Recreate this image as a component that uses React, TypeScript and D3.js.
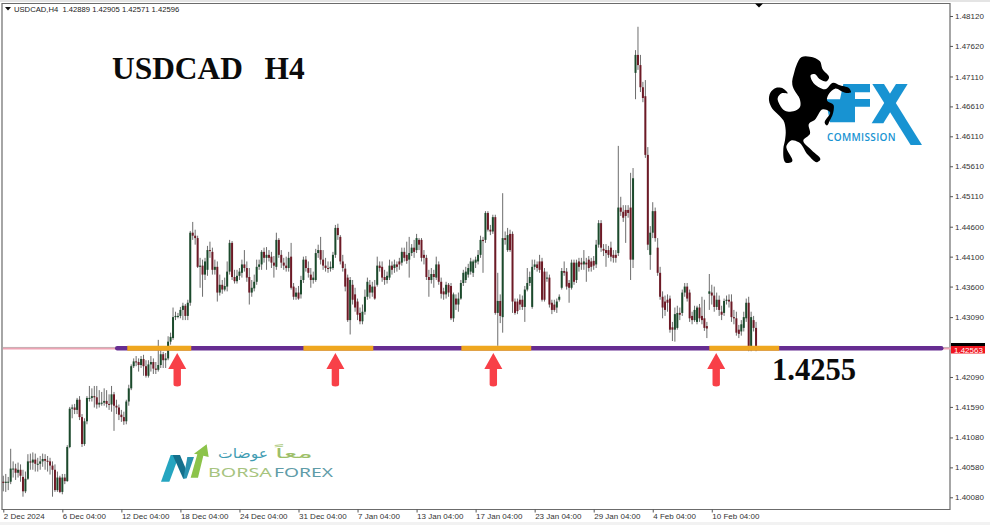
import { useEffect, useRef } from "react";
import * as d3 from "d3";

// USDCAD H4 bars
const OPENS = [1.4034,1.4032,1.4034,1.4034,1.4056,1.4056,1.4049,1.4054,1.4042,1.4018,1.4039,1.4068,1.4066,1.4071,1.4064,1.4064,1.4068,1.4072,1.4069,1.4068,1.4061,1.4054,1.4020,1.4041,1.4017,1.4041,1.4035,1.4092,1.4156,1.4158,1.4154,1.4171,1.4142,1.4097,1.4135,1.4174,1.4174,1.4177,1.4175,1.4163,1.4166,1.4166,1.4169,1.4164,1.4163,1.4180,1.4161,1.4158,1.4146,1.4142,1.4135,1.4168,1.4190,1.4227,1.4235,1.4234,1.4229,1.4239,1.4227,1.4211,1.4230,1.4234,1.4223,1.4221,1.4229,1.4247,1.4237,1.4240,1.4268,1.4274,1.4309,1.4311,1.4311,1.4321,1.4328,1.4311,1.4333,1.4450,1.4445,1.4441,1.4393,1.4395,1.4380,1.4388,1.4421,1.4418,1.4388,1.4393,1.4350,1.4363,1.4355,1.4360,1.4385,1.4433,1.4376,1.4369,1.4378,1.4383,1.4397,1.4391,1.4376,1.4350,1.4357,1.4368,1.4393,1.4397,1.4418,1.4408,1.4413,1.4410,1.4400,1.4393,1.4438,1.4413,1.4400,1.4395,1.4391,1.4410,1.4360,1.4343,1.4350,1.4347,1.4371,1.4405,1.4391,1.4380,1.4371,1.4371,1.4416,1.4421,1.4405,1.4395,1.4391,1.4390,1.4391,1.4413,1.4458,1.4443,1.4402,1.4390,1.4375,1.4304,1.4363,1.4347,1.4335,1.4316,1.4302,1.4318,1.4343,1.4363,1.4350,1.4360,1.4363,1.4395,1.4393,1.4376,1.4371,1.4375,1.4395,1.4391,1.4397,1.4402,1.4400,1.4418,1.4413,1.4405,1.4416,1.4425,1.4421,1.4438,1.4438,1.4413,1.4408,1.4376,1.4371,1.4381,1.4375,1.4397,1.4368,1.4352,1.4347,1.4363,1.4361,1.4307,1.4340,1.4330,1.4340,1.4366,1.4371,1.4380,1.4385,1.4383,1.4400,1.4402,1.4413,1.4438,1.4438,1.4483,1.4455,1.4452,1.4476,1.4316,1.4336,1.4309,1.4441,1.4421,1.4448,1.4448,1.4335,1.4335,1.4338,1.4338,1.4326,1.4355,1.4366,1.4326,1.4393,1.4397,1.4402,1.4402,1.4385,1.4375,1.4375,1.4333,1.4330,1.4325,1.4338,1.4358,1.4386,1.4385,1.4366,1.4358,1.4400,1.4371,1.4402,1.4400,1.4397,1.4400,1.4405,1.4402,1.4403,1.4397,1.4430,1.4466,1.4423,1.4421,1.4421,1.4425,1.4413,1.4413,1.4416,1.4492,1.4485,1.4488,1.4488,1.4492,1.4405,1.4717,1.4747,1.4730,1.4693,1.4678,1.4580,1.4413,1.4450,1.4486,1.4425,1.4383,1.4343,1.4335,1.4338,1.4340,1.4292,1.4288,1.4291,1.4316,1.4316,1.4350,1.4360,1.4350,1.4311,1.4304,1.4301,1.4325,1.4311,1.4307,1.4294,1.4348,1.4350,1.4345,1.4326,1.4338,1.4318,1.4316,1.4336,1.4338,1.4335,1.4309,1.4307,1.4288,1.4285,1.4291,1.4307,1.4333,1.4259,1.4304,1.4291];
const HIGHS = [1.4044,1.4047,1.4042,1.4089,1.4068,1.4064,1.4066,1.4063,1.4054,1.4051,1.4080,1.4081,1.4083,1.4081,1.4074,1.4077,1.4081,1.4080,1.4077,1.4074,1.4068,1.4063,1.4051,1.4044,1.4047,1.4047,1.4095,1.4159,1.4163,1.4164,1.4174,1.4177,1.4147,1.4140,1.4177,1.4194,1.4190,1.4194,1.4194,1.4187,1.4184,1.4190,1.4187,1.4180,1.4194,1.4184,1.4171,1.4163,1.4154,1.4151,1.4171,1.4196,1.4230,1.4240,1.4244,1.4240,1.4244,1.4246,1.4237,1.4237,1.4244,1.4240,1.4234,1.4271,1.4254,1.4251,1.4249,1.4277,1.4283,1.4325,1.4318,1.4316,1.4326,1.4333,1.4331,1.4338,1.4453,1.4468,1.4455,1.4445,1.4408,1.4405,1.4408,1.4428,1.4435,1.4425,1.4405,1.4402,1.4380,1.4371,1.4375,1.4402,1.4438,1.4436,1.4388,1.4388,1.4391,1.4405,1.4421,1.4402,1.4391,1.4371,1.4380,1.4405,1.4405,1.4421,1.4425,1.4426,1.4421,1.4418,1.4411,1.4450,1.4441,1.4421,1.4408,1.4410,1.4418,1.4433,1.4366,1.4358,1.4361,1.4378,1.4410,1.4411,1.4402,1.4391,1.4385,1.4423,1.4430,1.4443,1.4421,1.4408,1.4402,1.4402,1.4418,1.4463,1.4465,1.4446,1.4413,1.4398,1.4380,1.4376,1.4371,1.4358,1.4340,1.4325,1.4330,1.4355,1.4375,1.4371,1.4368,1.4371,1.4410,1.4402,1.4402,1.4388,1.4385,1.4405,1.4402,1.4405,1.4402,1.4408,1.4425,1.4425,1.4435,1.4443,1.4431,1.4438,1.4448,1.4441,1.4441,1.4421,1.4413,1.4388,1.4391,1.4388,1.4410,1.4402,1.4375,1.4358,1.4368,1.4366,1.4366,1.4350,1.4347,1.4350,1.4371,1.4388,1.4393,1.4398,1.4408,1.4405,1.4410,1.4421,1.4445,1.4443,1.4486,1.4486,1.4463,1.4480,1.4480,1.4383,1.4347,1.4516,1.4452,1.4458,1.4455,1.4452,1.4340,1.4340,1.4347,1.4345,1.4361,1.4391,1.4385,1.4405,1.4405,1.4402,1.4413,1.4408,1.4391,1.4385,1.4380,1.4338,1.4338,1.4340,1.4347,1.4391,1.4402,1.4391,1.4371,1.4405,1.4405,1.4405,1.4408,1.4408,1.4421,1.4408,1.4411,1.4408,1.4411,1.4438,1.4471,1.4471,1.4431,1.4431,1.4428,1.4435,1.4421,1.4421,1.4595,1.4510,1.4496,1.4496,1.4496,1.4550,1.4558,1.4755,1.4794,1.4747,1.4702,1.4705,1.4593,1.4461,1.4501,1.4492,1.4441,1.4393,1.4352,1.4345,1.4347,1.4345,1.4301,1.4325,1.4328,1.4325,1.4355,1.4366,1.4366,1.4355,1.4318,1.4328,1.4328,1.4331,1.4343,1.4338,1.4301,1.4381,1.4363,1.4360,1.4350,1.4345,1.4328,1.4340,1.4345,1.4347,1.4347,1.4321,1.4318,1.4296,1.4304,1.4318,1.4340,1.4343,1.4318,1.4311,1.4301];
const LOWS = [1.4018,1.4017,1.4020,1.4030,1.4041,1.4037,1.4041,1.4034,1.4009,1.4015,1.4037,1.4054,1.4054,1.4051,1.4051,1.4054,1.4059,1.4054,1.4051,1.4046,1.4009,1.4017,1.4017,1.4015,1.4013,1.4030,1.4034,1.4090,1.4140,1.4147,1.4147,1.4137,1.4092,1.4094,1.4130,1.4168,1.4168,1.4158,1.4156,1.4158,1.4161,1.4161,1.4158,1.4154,1.4151,1.4119,1.4147,1.4137,1.4134,1.4129,1.4130,1.4161,1.4187,1.4224,1.4227,1.4218,1.4224,1.4211,1.4208,1.4208,1.4218,1.4214,1.4214,1.4218,1.4224,1.4224,1.4224,1.4237,1.4263,1.4271,1.4304,1.4307,1.4307,1.4304,1.4304,1.4304,1.4328,1.4438,1.4430,1.4391,1.4358,1.4343,1.4371,1.4378,1.4408,1.4380,1.4380,1.4335,1.4345,1.4348,1.4352,1.4352,1.4380,1.4371,1.4365,1.4365,1.4371,1.4375,1.4385,1.4368,1.4330,1.4343,1.4352,1.4363,1.4388,1.4388,1.4400,1.4388,1.4402,1.4391,1.4375,1.4388,1.4408,1.4391,1.4388,1.4385,1.4385,1.4355,1.4338,1.4338,1.4338,1.4340,1.4366,1.4385,1.4375,1.4358,1.4365,1.4368,1.4408,1.4397,1.4388,1.4385,1.4383,1.4385,1.4388,1.4408,1.4438,1.4397,1.4385,1.4352,1.4301,1.4280,1.4330,1.4318,1.4304,1.4297,1.4297,1.4313,1.4338,1.4340,1.4343,1.4338,1.4360,1.4385,1.4368,1.4363,1.4365,1.4371,1.4380,1.4383,1.4385,1.4388,1.4395,1.4402,1.4398,1.4375,1.4411,1.4408,1.4416,1.4421,1.4402,1.4397,1.4371,1.4343,1.4365,1.4358,1.4371,1.4363,1.4340,1.4338,1.4340,1.4343,1.4304,1.4301,1.4321,1.4318,1.4338,1.4361,1.4366,1.4375,1.4380,1.4376,1.4391,1.4397,1.4408,1.4383,1.4433,1.4452,1.4446,1.4448,1.4313,1.4261,1.4299,1.4283,1.4430,1.4418,1.4418,1.4316,1.4313,1.4314,1.4321,1.4321,1.4301,1.4352,1.4361,1.4323,1.4388,1.4385,1.4383,1.4335,1.4335,1.4368,1.4325,1.4314,1.4318,1.4316,1.4335,1.4355,1.4378,1.4355,1.4333,1.4355,1.4363,1.4366,1.4385,1.4388,1.4388,1.4368,1.4385,1.4385,1.4388,1.4391,1.4425,1.4418,1.4411,1.4393,1.4408,1.4402,1.4400,1.4400,1.4411,1.4478,1.4468,1.4433,1.4475,1.4371,1.4391,1.4673,1.4722,1.4685,1.4668,1.4575,1.4421,1.4388,1.4441,1.4435,1.4378,1.4338,1.4307,1.4311,1.4318,1.4283,1.4269,1.4268,1.4288,1.4304,1.4311,1.4343,1.4335,1.4301,1.4297,1.4301,1.4297,1.4301,1.4297,1.4286,1.4274,1.4321,1.4330,1.4318,1.4321,1.4311,1.4304,1.4311,1.4330,1.4325,1.4301,1.4297,1.4278,1.4274,1.4278,1.4285,1.4301,1.4252,1.4252,1.4285,1.4252];
const CLOSES = [1.4032,1.4034,1.4034,1.4056,1.4056,1.4049,1.4054,1.4044,1.4018,1.4039,1.4068,1.4066,1.4071,1.4064,1.4064,1.4068,1.4072,1.4069,1.4068,1.4061,1.4054,1.4020,1.4041,1.4017,1.4041,1.4035,1.4092,1.4156,1.4158,1.4154,1.4171,1.4142,1.4097,1.4135,1.4174,1.4174,1.4177,1.4175,1.4163,1.4166,1.4166,1.4169,1.4164,1.4163,1.4180,1.4161,1.4158,1.4146,1.4142,1.4135,1.4168,1.4190,1.4227,1.4235,1.4234,1.4229,1.4239,1.4227,1.4211,1.4230,1.4234,1.4223,1.4221,1.4229,1.4247,1.4237,1.4240,1.4268,1.4276,1.4309,1.4311,1.4311,1.4321,1.4328,1.4311,1.4333,1.4450,1.4445,1.4441,1.4393,1.4395,1.4380,1.4402,1.4421,1.4420,1.4388,1.4393,1.4350,1.4363,1.4355,1.4361,1.4385,1.4433,1.4376,1.4369,1.4378,1.4385,1.4397,1.4391,1.4375,1.4350,1.4358,1.4368,1.4393,1.4397,1.4418,1.4408,1.4413,1.4408,1.4400,1.4395,1.4438,1.4413,1.4400,1.4395,1.4391,1.4408,1.4358,1.4343,1.4350,1.4340,1.4371,1.4405,1.4391,1.4383,1.4371,1.4375,1.4416,1.4421,1.4405,1.4395,1.4391,1.4390,1.4393,1.4413,1.4458,1.4446,1.4402,1.4391,1.4360,1.4304,1.4371,1.4338,1.4325,1.4313,1.4302,1.4318,1.4343,1.4368,1.4350,1.4360,1.4340,1.4395,1.4391,1.4375,1.4371,1.4378,1.4395,1.4388,1.4397,1.4393,1.4397,1.4418,1.4408,1.4403,1.4416,1.4425,1.4418,1.4441,1.4430,1.4408,1.4408,1.4376,1.4371,1.4381,1.4376,1.4397,1.4368,1.4348,1.4347,1.4363,1.4350,1.4307,1.4347,1.4330,1.4340,1.4366,1.4383,1.4385,1.4391,1.4402,1.4402,1.4405,1.4413,1.4438,1.4436,1.4483,1.4455,1.4452,1.4476,1.4316,1.4336,1.4311,1.4441,1.4438,1.4446,1.4421,1.4335,1.4316,1.4319,1.4330,1.4326,1.4355,1.4366,1.4376,1.4393,1.4397,1.4391,1.4388,1.4338,1.4338,1.4375,1.4330,1.4321,1.4321,1.4335,1.4343,1.4386,1.4383,1.4360,1.4358,1.4400,1.4368,1.4400,1.4393,1.4397,1.4402,1.4397,1.4391,1.4393,1.4395,1.4430,1.4466,1.4425,1.4420,1.4416,1.4413,1.4410,1.4408,1.4408,1.4492,1.4485,1.4475,1.4478,1.4483,1.4405,1.4541,1.4747,1.4730,1.4693,1.4675,1.4580,1.4430,1.4450,1.4486,1.4441,1.4383,1.4343,1.4325,1.4321,1.4333,1.4288,1.4288,1.4314,1.4316,1.4313,1.4350,1.4360,1.4340,1.4307,1.4304,1.4321,1.4325,1.4307,1.4304,1.4291,1.4290,1.4352,1.4345,1.4326,1.4338,1.4321,1.4313,1.4336,1.4338,1.4335,1.4309,1.4307,1.4283,1.4281,1.4297,1.4309,1.4333,1.4259,1.4309,1.4291,1.4256];

const PRICE_TICKS = [1.4812, 1.4762, 1.4711, 1.4661, 1.4611, 1.4561, 1.4511, 1.446, 1.441, 1.436, 1.4309, 1.4209, 1.4159, 1.4108, 1.4058, 1.4008];
const TIME_TICK_BARS = [0, 24, 48, 72, 96, 120, 144, 168, 192, 216, 240, 264, 288];
const TIME_LABELS = ["2 Dec 2024", "6 Dec 04:00", "12 Dec 04:00", "18 Dec 04:00", "24 Dec 04:00", "31 Dec 04:00", "7 Jan 04:00", "13 Jan 04:00", "17 Jan 04:00", "23 Jan 04:00", "29 Jan 04:00", "4 Feb 04:00", "10 Feb 04:00"];

const LEVEL = 1.4257;
const LEVEL_BARS = [46.3, 381.3];
// Orange touch zones on the level, as [first bar, last bar]
const ZONES = [[50.4, 76.4], [122, 150.4], [186.2, 214.6], [287, 315.4]];
const ARROW_BARS = [70.7, 135, 199.2, 289.8];

const WIDTH = 990;
const HEIGHT = 525;
const AXIS_FONT = "'Liberation Sans', Arial, sans-serif";

// Logo outlines, in the logo's own 3x units
const HORSE = [[110,15],[135,14],[165,28],[172,50],[192,78],[185,88],[165,82],[148,66],[138,68],[142,88],[160,105],[180,112],[205,92],[225,100],[255,112],[258,120],[240,122],[210,110],[192,125],[186,145],[206,160],[206,175],[195,205],[185,220],[180,215],[195,180],[175,172],[148,205],[132,215],[135,245],[115,265],[140,295],[165,325],[158,330],[130,310],[100,270],[80,265],[65,280],[80,330],[65,333],[55,290],[60,265],[62,235],[55,205],[40,188],[22,170],[12,145],[16,122],[32,108],[55,110],[68,124],[50,124],[38,138],[44,158],[60,176],[85,178],[105,165],[104,140],[90,118],[82,98],[88,60],[95,38]];
const FX_F = [[250,132],[330,132],[330,157],[285,157],[285,177],[330,177],[330,200],[285,200],[285,247],[210,247],[197,178],[240,178]];
const FX_X_LONG = [[337,132],[372,132],[486,315],[452,315]];
const FX_X_SHORT = [[408,132],[443,132],[370,250],[335,250]];

export default function App() {
  const svgRef = useRef<SVGSVGElement>(null);

  useEffect(() => {
    if (!svgRef.current) return;
    const svg = d3.select(svgRef.current);
    svg.selectAll("*").remove();

    const x = d3.scaleLinear().domain([0, 100]).range([3.3, 249.3]);
    const y = d3.scaleLinear().domain([1.4008, 1.4812]).range([497.3, 16]);
    const bars = OPENS.map((o, i) => ({ i, o, h: HIGHS[i], l: LOWS[i], c: CLOSES[i] }));

    svg.append("rect").attr("width", WIDTH).attr("height", HEIGHT).attr("fill", "#fff");
    svg.append("rect").attr("width", WIDTH).attr("height", 2).attr("fill", "#e4e4e4");
    svg.append("rect").attr("y", 522).attr("width", WIDTH).attr("height", 3).attr("fill", "#f2f2f2");

    // Chart frame
    svg.append("path")
      .attr("d", "M2 509.5V3.5H950V509.5Z")
      .attr("fill", "none")
      .attr("stroke", "#6b6b6b")
      .attr("stroke-width", 1.2);
    svg.append("path").attr("d", "M755 3.5h8l-4 4Z").attr("fill", "#000");
    svg.append("path").attr("d", "M5 7h6l-3 3.5Z").attr("fill", "#111");

    // Level line, thin part runs the full width under the thick part
    svg.append("line")
      .attr("x1", 3).attr("x2", 951).attr("y1", y(LEVEL) - 0.8).attr("y2", y(LEVEL) - 0.8)
      .attr("stroke", "#b8b0b0").attr("stroke-width", 1);
    svg.append("line")
      .attr("x1", 3).attr("x2", 951).attr("y1", y(LEVEL) + 0.4).attr("y2", y(LEVEL) + 0.4)
      .attr("stroke", "#eda3b4").attr("stroke-width", 1.6);

    // Candles
    svg.append("g").selectAll("line").data(bars).join("line")
      .attr("x1", (d) => x(d.i)).attr("x2", (d) => x(d.i))
      .attr("y1", (d) => y(d.h)).attr("y2", (d) => y(d.l))
      .attr("stroke", "#5c5c5c").attr("stroke-width", 0.9);
    svg.append("g").selectAll("rect").data(bars).join("rect")
      .attr("x", (d) => x(d.i) - 1)
      .attr("y", (d) => y(Math.max(d.o, d.c)))
      .attr("width", 2)
      .attr("height", (d) => Math.max(1, Math.abs(y(d.o) - y(d.c))))
      .attr("fill", (d) => (d.c >= d.o ? "#1b4a2c" : "#6d1a26"));

    svg.append("line")
      .attr("x1", x(LEVEL_BARS[0])).attr("x2", x(LEVEL_BARS[1]))
      .attr("y1", y(LEVEL)).attr("y2", y(LEVEL))
      .attr("stroke", "#662d91").attr("stroke-width", 4.4).attr("stroke-linecap", "round");
    svg.append("g").selectAll("line").data(ZONES).join("line")
      .attr("x1", (d) => x(d[0])).attr("x2", (d) => x(d[1]))
      .attr("y1", y(LEVEL)).attr("y2", y(LEVEL))
      .attr("stroke", "#efa71f").attr("stroke-width", 5);

    // Arrows under the level
    svg.append("g").selectAll("path").data(ARROW_BARS).join("path")
      .attr("transform", (d) => `translate(${x(d)},353)`)
      .attr("d", "M0 0L9 16H3.7V31.5a3.7 2 0 0 1 -7.4 0V16H-9Z")
      .attr("fill", "#f84048");

    // Price axis
    const yAxis = svg.append("g")
      .attr("transform", "translate(950,0)")
      .call(d3.axisRight(y).tickValues(PRICE_TICKS).tickFormat(d3.format(".5f")).tickSize(3).tickPadding(2));
    yAxis.select(".domain").remove();
    yAxis.selectAll(".tick line").attr("stroke", "#555");
    yAxis.selectAll(".tick text").attr("fill", "#333").attr("font-size", 8).attr("font-family", AXIS_FONT);

    // Time axis
    const xAxis = svg.append("g")
      .attr("transform", "translate(0,509.5)")
      .call(d3.axisBottom(x).tickValues(TIME_TICK_BARS).tickFormat((_, i) => TIME_LABELS[i]).tickSize(3).tickPadding(1));
    xAxis.select(".domain").remove();
    xAxis.selectAll(".tick line").attr("stroke", "#555");
    xAxis.selectAll(".tick text")
      .attr("fill", "#333").attr("font-size", 8).attr("font-family", AXIS_FONT)
      .attr("text-anchor", "start");

    // Current price tag
    svg.append("rect").attr("x", 951).attr("y", 343).attr("width", 34).attr("height", 4).attr("fill", "#000");
    svg.append("rect").attr("x", 951).attr("y", 346).attr("width", 34).attr("height", 7.5).attr("fill", "#f0141e");
    svg.append("text")
      .attr("x", 954).attr("y", 352.6)
      .attr("fill", "#fff").attr("font-size", 8).attr("font-family", AXIS_FONT)
      .text("1.42563");

    // Header
    svg.append("text")
      .attr("x", 14).attr("y", 12)
      .attr("fill", "#222").attr("font-size", 7.65).attr("font-family", AXIS_FONT)
      .attr("xml:space", "preserve")
      .text("USDCAD,H4  1.42889 1.42905 1.42571 1.42596");

    // Big labels
    const big = "'Liberation Serif', serif";
    const label = (t: string, px: number, py: number, size: number) =>
      svg.append("text")
        .attr("x", px).attr("y", py)
        .attr("font-family", big).attr("font-weight", 700).attr("font-size", size)
        .attr("fill", "#0b0b0b")
        .text(t);
    label("USDCAD", 112, 78.5, 31.4);
    label("H4", 264.5, 78.5, 31.4);
    label("1.4255", 772, 380, 30.6);

    // FX Commission logo
    const fx = svg.append("g").attr("transform", "translate(760,40) scale(0.3333)");
    const poly = d3.line();
    [FX_F, FX_X_LONG, FX_X_SHORT].forEach((p) => {
      fx.append("path").attr("d", poly(p as [number, number][]) + "Z").attr("fill", "#1893d2");
    });
    svg.append("g")
      .attr("transform", "translate(765,52) scale(0.3333)")
      .append("path")
      .attr("d", d3.line().curve(d3.curveCatmullRomClosed.alpha(1))(HORSE as [number, number][]))
      .attr("fill", "#000");
    svg.append("text")
      .attr("x", 827).attr("y", 140.5)
      .attr("font-family", "'Open Sans', sans-serif").attr("font-weight", 600).attr("font-size", 10)
      .attr("letter-spacing", 0.35)
      .attr("fill", "#1893d2")
      .text("COMMISSION");

    // Borsa Forex logo
    const bf = svg.append("g").attr("transform", "translate(150,435) scale(0.3333)");
    bf.append("path").attr("d", "M33 140L62 60H88L58 140Z").attr("fill", "#25a5c0");
    bf.append("path").attr("d", "M68 60H90L112 112L100 132Z").attr("fill", "#14708c");
    bf.append("path").attr("d", "M112 66H132L110 130L100 132Z").attr("fill", "#2a93b0");
    bf.append("path").attr("d", "M170 28L176 66L160 62L144 128H122L142 58L132 56Z").attr("fill", "#8cc34a");
    const words = [
      { t: "عوضات", px: 218, len: 50, c: "#3f9cb2" },
      { t: "معاً", px: 275, len: 38, c: "#9dbf68" },
    ];
    words.forEach((w) => {
      svg.append("text")
        .attr("x", w.px).attr("y", 458)
        .attr("font-family", "'DejaVu Sans', sans-serif").attr("font-size", 13)
        .attr("textLength", w.len).attr("lengthAdjust", "spacingAndGlyphs")
        .attr("fill", w.c)
        .text(w.t);
    });
    const brand = [
      { t: "BORSA", px: 208, len: 64, c: "#a7c47f" },
      { t: "FOREX", px: 274, len: 59, c: "#5f9ca8" },
    ];
    brand.forEach((b) => {
      svg.append("text")
        .attr("x", b.px).attr("y", 477)
        .attr("font-family", "'Noto Sans', sans-serif").attr("font-size", 12.6)
        .attr("textLength", b.len).attr("lengthAdjust", "spacingAndGlyphs")
        .attr("fill", b.c)
        .text(b.t);
    });
  }, []);

  return (
    <svg
      ref={svgRef}
      width={WIDTH}
      height={HEIGHT}
      role="img"
      aria-label="USDCAD H4 candlestick chart with support level at 1.4255"
      style={{ position: "absolute", left: 0, top: 0, display: "block" }}
    />
  );
}
